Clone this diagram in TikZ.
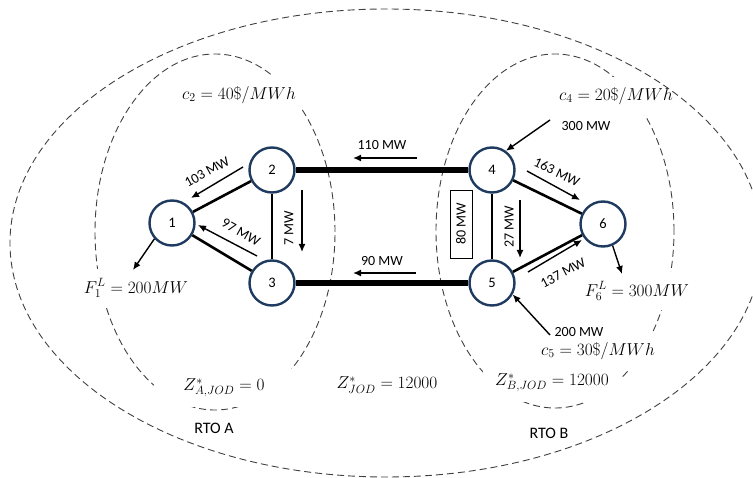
\documentclass[tikz,border=0pt]{standalone}
\usepackage{fontspec}
\setsansfont{Carlito}
\usetikzlibrary{arrows.meta,positioning}
\definecolor{busblue}{HTML}{1F3A5F}
\definecolor{zonegray}{HTML}{404040}

\tikzset{
  bus/.style={circle, draw=busblue, line width=2.4pt, fill=white, minimum size=45pt,
              inner sep=0pt, font=\sffamily\fontsize{14.5}{16}\selectfont},
  tieline/.style={line width=5.5pt},
  branch/.style={line width=2.6pt},
  flow/.style={line width=1.4pt, -{Latex[length=8pt,width=7pt]}},
  mw/.style={font=\sffamily\fontsize{14}{15}\selectfont, inner sep=1pt},
  val/.style={fill=white, inner xsep=5pt, inner ysep=0pt, minimum height=38pt,
              font=\fontsize{16.5}{19}\selectfont},
  zone/.style={draw=zonegray, line width=0.9pt, dash pattern=on 7pt off 4pt},
  rto/.style={font=\sffamily\fontsize{16}{18}\selectfont},
}

\begin{document}
\begin{tikzpicture}[x=1pt, y=-1pt]
  \useasboundingbox (0,0) rectangle (753,478);
  \clip (0,0) rectangle (753,478);

  % RTO areas
  \draw[zone] (215,232) ellipse [x radius=120pt, y radius=178pt];
  \draw[zone] (555,231) ellipse [x radius=119pt, y radius=177pt];

  % prices, loads, objective values
  \node[val] (c2) at (239,95) {$c_2 = 40\$/MWh$};
  \node[val] (c4) at (616,96) {$c_4 = 20\$/MWh$};
  \node[val] (c5) at (598,351) {$c_5 = 30\$/MWh$};
  \node[val] (f1) at (136,288) {$F_1^L = 200MW$};
  \node[val] (f6) at (637,291) {$F_6^L = 300MW$};
  \node[val, minimum width=140pt] (za) at (224,388) {$Z^*_{A,JOD} = 0$};
  \node[val, minimum width=138pt] (zb) at (552,383) {$Z^*_{B,JOD} = 12000$};
  \node[val] (zj) at (387,385) {$Z^*_{JOD} = 12000$};

  % joint area
  \draw[zone] (386,243) ellipse [x radius=376pt, y radius=234pt];

  % buses
  \node[bus] (n1) at (172,223) {1};
  \node[bus] (n2) at (272,170) {2};
  \node[bus] (n3) at (272,283) {3};
  \node[bus] (n4) at (492,170) {4};
  \node[bus] (n5) at (492,283) {5};
  \node[bus] (n6) at (603,224) {6};

  % lines
  \draw[branch] (n1) -- (n2);
  \draw[branch] (n1) -- (n3);
  \draw[branch] (n2) -- (n3);
  \draw[tieline] (n2) -- (n4);
  \draw[tieline] (n3) -- (n5);
  \draw[branch] (n4) -- (n5);
  \draw[branch] (n4) -- (n6);
  \draw[branch] (n5) -- (n6);

  % flows
  \coordinate (a21) at (243,167); \coordinate (b21) at (191,198);
  \coordinate (a31) at (257,256); \coordinate (b31) at (198,225);
  \coordinate (a23) at (302,190); \coordinate (b23) at (302,252);
  \coordinate (a42) at (417,158); \coordinate (b42) at (353,158);
  \coordinate (a53) at (416,273); \coordinate (b53) at (353,273);
  \coordinate (a45) at (520,200); \coordinate (b45) at (520,258);
  \coordinate (a46) at (527,171); \coordinate (b46) at (580,200);
  \coordinate (a56) at (528,272); \coordinate (b56) at (582,240);
  \draw[flow] (a21) -- (b21);
  \draw[flow] (a31) -- (b31);
  \draw[flow] (a23) -- (b23);
  \draw[flow] (a42) -- (b42);
  \draw[flow] (a53) -- (b53);
  \draw[flow] (a45) -- (b45);
  \draw[flow] (a46) -- (b46);
  \draw[flow] (a56) -- (b56);

  \node[mw, rotate=29] (l21) at (207,172) {103 MW};
  \node[mw, rotate=-29] (l31) at (241,232) {97 MW};
  \node[mw, rotate=90] (l23) at (289,228) {7 MW};
  \node[mw] (l42) at (382,145) {110 MW};
  \node[mw] (l53) at (382,261) {90 MW};
  \node[mw, rotate=90, draw, line width=0.8pt, minimum width=68pt, minimum height=22pt] (l54) at (461,224) {80 MW};
  \node[mw, rotate=90] (l45) at (509,227) {27 MW};
  \node[mw, rotate=-26] (l46) at (557,172) {163 MW};
  \node[mw, rotate=28] (l56) at (563,273) {137 MW};

  % generation and load
  \coordinate (g4) at (550,120);
  \coordinate (g5) at (550,335);
  \coordinate (d1) at (133,270);
  \coordinate (d6) at (622,274);
  \draw[flow] (g4) -- (n4.54);
  \draw[flow] (g5) -- (n5.-29);
  \draw[flow] (n1.222) -- (d1);
  \draw[flow] (n6.-66) -- (d6);
  \node[mw] (p4) at (586,126) {300 MW};
  \node[mw] (p5) at (579,332) {200 MW};

  \node[rto] (rtoa) at (214,428) {RTO A};
  \node[rto] (rtob) at (549,433) {RTO B};
\end{tikzpicture}
\end{document}
